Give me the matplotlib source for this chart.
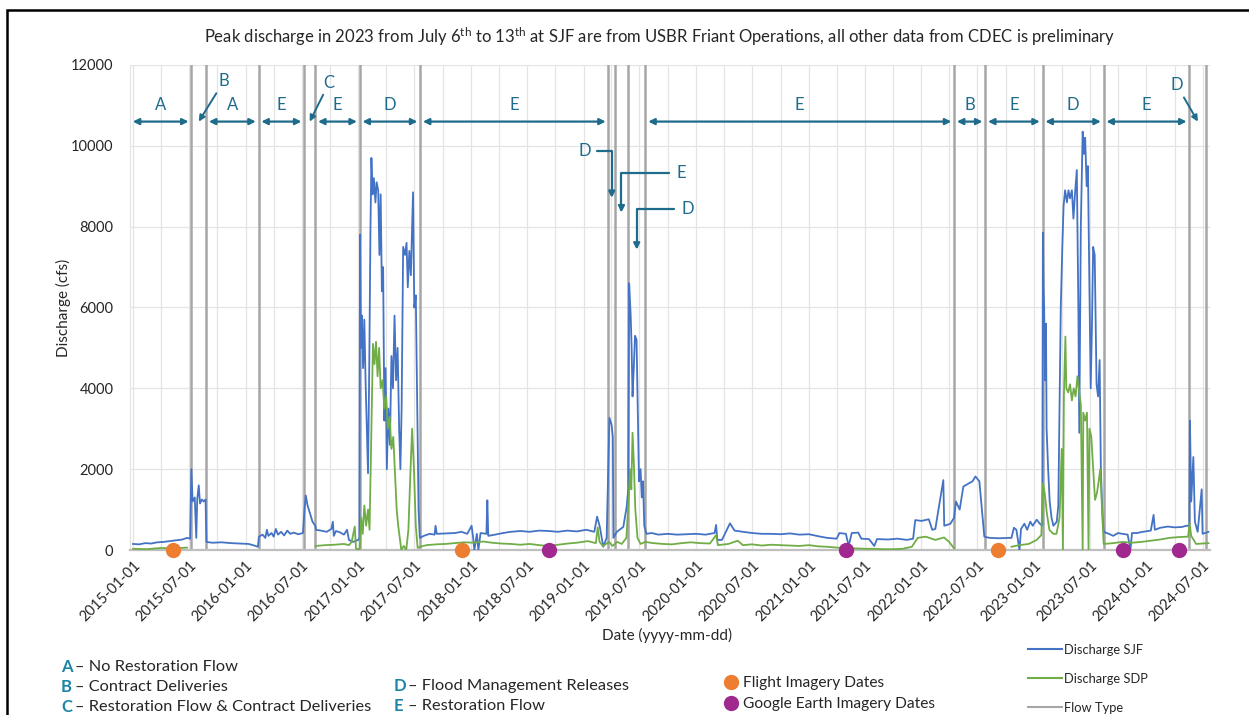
import matplotlib
matplotlib.use('Agg')
import matplotlib.pyplot as plt
import matplotlib.dates as mdates
from matplotlib.lines import Line2D
import numpy as np
import pandas as pd

plt.rcParams['font.family'] = ['Lato', 'DejaVu Sans']

# Discharge SJF (cfs)
sjf_dates = [
    '2015-01-01', '2015-01-20', '2015-02-10', '2015-03-01', '2015-03-20', '2015-04-10', '2015-05-01',
    '2015-05-20', '2015-06-10', '2015-06-25', '2015-07-05', '2015-07-09', '2015-07-13', '2015-07-20',
    '2015-07-25', '2015-07-28', '2015-08-02', '2015-08-06', '2015-08-12', '2015-08-18', '2015-08-24',
    '2015-08-27', '2015-09-15', '2015-10-15', '2015-11-15', '2015-12-15', '2016-01-10', '2016-01-25',
    '2016-02-10', '2016-02-13', '2016-02-25', '2016-03-05', '2016-03-10', '2016-03-15', '2016-03-25',
    '2016-04-01', '2016-04-08', '2016-04-15', '2016-04-25', '2016-05-05', '2016-05-15', '2016-05-25',
    '2016-06-05', '2016-06-20', '2016-07-05', '2016-07-10', '2016-07-14', '2016-07-20', '2016-07-28',
    '2016-08-05', '2016-08-14', '2016-08-16', '2016-09-01', '2016-09-20', '2016-10-05', '2016-10-10',
    '2016-10-13', '2016-10-20', '2016-11-01', '2016-11-15', '2016-11-25', '2016-12-01', '2016-12-15',
    '2016-12-31', '2017-01-04', '2017-01-06', '2017-01-09', '2017-01-12', '2017-01-16', '2017-01-20',
    '2017-01-24', '2017-01-28', '2017-02-01', '2017-02-05', '2017-02-09', '2017-02-12', '2017-02-16',
    '2017-02-20', '2017-02-25', '2017-03-01', '2017-03-06', '2017-03-10', '2017-03-14', '2017-03-18',
    '2017-03-22', '2017-03-26', '2017-03-30', '2017-04-03', '2017-04-08', '2017-04-13', '2017-04-18',
    '2017-04-23', '2017-04-28', '2017-05-03', '2017-05-08', '2017-05-13', '2017-05-17', '2017-05-21',
    '2017-05-26', '2017-06-01', '2017-06-06', '2017-06-10', '2017-06-15', '2017-06-20', '2017-06-27',
    '2017-07-01', '2017-07-06', '2017-07-10', '2017-07-15', '2017-07-19', '2017-08-01', '2017-08-20',
    '2017-09-05', '2017-09-08', '2017-09-12', '2017-10-15', '2017-11-10', '2017-12-01', '2017-12-20',
    '2018-01-03', '2018-01-08', '2018-01-12', '2018-01-20', '2018-01-25', '2018-02-01', '2018-02-20',
    '2018-02-23', '2018-02-26', '2018-03-20', '2018-04-15', '2018-05-10', '2018-06-10', '2018-07-10',
    '2018-08-10', '2018-09-10', '2018-10-10', '2018-11-10', '2018-12-10', '2019-01-10', '2019-02-05',
    '2019-02-14', '2019-02-23', '2019-03-06', '2019-03-17', '2019-03-26', '2019-04-02', '2019-04-06',
    '2019-04-08', '2019-04-19', '2019-05-10', '2019-05-21', '2019-05-26', '2019-05-29', '2019-06-03',
    '2019-06-06', '2019-06-09', '2019-06-13', '2019-06-17', '2019-06-22', '2019-06-26', '2019-06-30',
    '2019-07-05', '2019-07-09', '2019-07-13', '2019-07-17', '2019-07-24', '2019-08-10', '2019-09-01',
    '2019-10-01', '2019-11-01', '2019-12-01', '2020-01-01', '2020-02-01', '2020-03-01', '2020-03-06',
    '2020-03-10', '2020-03-25', '2020-04-10', '2020-04-20', '2020-05-05', '2020-06-01', '2020-07-01',
    '2020-08-01', '2020-09-01', '2020-10-01', '2020-11-01', '2020-12-01', '2021-01-01', '2021-02-01',
    '2021-03-01', '2021-04-01', '2021-04-10', '2021-05-01', '2021-05-10', '2021-05-20', '2021-06-10',
    '2021-06-20', '2021-07-15', '2021-08-01', '2021-08-10', '2021-09-15', '2021-10-15', '2021-11-15',
    '2021-12-05', '2021-12-12', '2022-01-01', '2022-01-25', '2022-02-05', '2022-02-15', '2022-03-13',
    '2022-03-16', '2022-03-25', '2022-04-05', '2022-04-17', '2022-04-23', '2022-05-05', '2022-05-17',
    '2022-06-04', '2022-06-16', '2022-06-25', '2022-07-08', '2022-07-24', '2022-08-10', '2022-09-10',
    '2022-10-10', '2022-10-20', '2022-10-28', '2022-11-05', '2022-11-15', '2022-11-20', '2022-12-01',
    '2022-12-10', '2022-12-20', '2022-12-28', '2023-01-10', '2023-01-20', '2023-01-28', '2023-01-30',
    '2023-02-01', '2023-02-03', '2023-02-06', '2023-02-09', '2023-02-11', '2023-02-16', '2023-02-21',
    '2023-02-27', '2023-03-05', '2023-03-16', '2023-03-21', '2023-03-29', '2023-04-03', '2023-04-07',
    '2023-04-12', '2023-04-18', '2023-04-23', '2023-04-28', '2023-05-04', '2023-05-09', '2023-05-14',
    '2023-05-20', '2023-05-25', '2023-05-28', '2023-06-02', '2023-06-08', '2023-06-12', '2023-06-16',
    '2023-06-21', '2023-06-25', '2023-06-29', '2023-07-04', '2023-07-08', '2023-07-12', '2023-07-17',
    '2023-07-23', '2023-07-28', '2023-08-02', '2023-08-06', '2023-08-11', '2023-08-15', '2023-09-01',
    '2023-09-15', '2023-10-01', '2023-10-15', '2023-11-01', '2023-11-10', '2023-11-15', '2023-12-01',
    '2023-12-20', '2024-01-15', '2024-01-24', '2024-01-28', '2024-02-15', '2024-03-10', '2024-04-01',
    '2024-04-25', '2024-05-10', '2024-05-19', '2024-05-21', '2024-05-25', '2024-06-01', '2024-06-06',
    '2024-06-15', '2024-06-28', '2024-07-01', '2024-07-20',
]
sjf_cfs = [
    150, 140, 170, 160, 190, 200, 220,
    240, 260, 300, 280, 2000, 1200, 1300,
    300, 1250, 1600, 1150, 1250, 1200, 1250,
    200, 180, 190, 170, 160, 150, 120,
    80, 330, 380, 300, 500, 350, 420,
    330, 520, 380, 450, 360, 480, 400,
    430, 390, 420, 1000, 1350, 1100, 900,
    700, 600, 500, 480, 450, 520, 700,
    350, 470, 440, 380, 500, 250, 200,
    250, 300, 7800, 5000, 5800, 4500, 5700,
    4200, 3000, 1900, 4500, 8000, 9700, 8800,
    9200, 8600, 9100, 8900, 7300, 8800, 6400,
    7000, 3200, 4500, 2000, 3500, 2600, 4800,
    4000, 5800, 4200, 5000, 3000, 2000, 3500,
    7500, 7300, 7600, 6500, 7400, 6800, 8850,
    6000, 6300, 4000, 1000, 300, 350, 400,
    380, 600, 400, 410, 420, 450, 400,
    600, 300, 0, 400, 0, 420, 400,
    1230, 350, 380, 420, 450, 470, 450,
    480, 470, 450, 480, 460, 500, 450,
    825, 570, 80, 300, 3270, 3100, 2800,
    300, 450, 570, 1070, 1500, 6600, 5800,
    5000, 3800, 4500, 5300, 5200, 3500, 1700,
    2000, 1300, 1700, 600, 400, 420, 380,
    400, 380, 390, 400, 380, 420, 620,
    250, 250, 500, 660, 480, 450, 420,
    400, 400, 390, 410, 380, 390, 340,
    300, 280, 420, 400, 100, 420, 430,
    280, 270, 100, 270, 260, 280, 250,
    280, 740, 720, 760, 500, 520, 1730,
    600, 620, 650, 800, 1200, 1000, 1570,
    1650, 1700, 1820, 1700, 330, 300, 290,
    300, 300, 550, 500, 0, 520, 650,
    500, 700, 600, 750, 650, 600, 7850,
    6500, 6000, 4200, 5600, 3000, 2000, 1200,
    800, 600, 700, 1100, 6000, 7500, 8500,
    8900, 8600, 8900, 8700, 8900, 8200, 8800,
    9400, 6000, 2900, 8000, 10350, 9800, 10200,
    9000, 9500, 7000, 4000, 5500, 7500, 7300,
    4100, 3800, 4700, 2000, 900, 450, 400,
    350, 420, 400, 380, 0, 420, 420,
    450, 480, 870, 500, 550, 580, 560,
    570, 600, 600, 3200, 1200, 2300, 700,
    450, 1500, 400, 450,
]

# Discharge SDP (cfs); nan = no record
sdp_dates = [
    '2015-01-01', '2015-02-15', '2015-04-01', '2015-05-15', '2015-06-25', '2015-07-05', '2016-08-14',
    '2016-08-15', '2016-09-15', '2016-10-15', '2016-11-15', '2016-12-01', '2016-12-10', '2016-12-20',
    '2016-12-24', '2017-01-05', '2017-01-10', '2017-01-15', '2017-01-20', '2017-01-26', '2017-02-01',
    '2017-02-06', '2017-02-12', '2017-02-17', '2017-02-22', '2017-02-27', '2017-03-04', '2017-03-09',
    '2017-03-14', '2017-03-20', '2017-03-26', '2017-04-01', '2017-04-06', '2017-04-12', '2017-04-18',
    '2017-04-24', '2017-04-30', '2017-05-05', '2017-05-10', '2017-05-15', '2017-05-20', '2017-05-28',
    '2017-06-05', '2017-06-12', '2017-06-18', '2017-06-24', '2017-06-30', '2017-07-06', '2017-07-12',
    '2017-07-20', '2017-08-10', '2017-09-10', '2017-10-10', '2017-11-10', '2017-12-10', '2018-01-10',
    '2018-02-10', '2018-03-10', '2018-04-10', '2018-05-10', '2018-06-10', '2018-07-10', '2018-08-10',
    '2018-09-10', '2018-10-10', '2018-11-10', '2018-12-10', '2019-01-15', '2019-02-10', '2019-02-16',
    '2019-02-22', '2019-03-05', '2019-03-25', '2019-04-05', '2019-04-20', '2019-05-05', '2019-05-20',
    '2019-05-27', '2019-06-01', '2019-06-05', '2019-06-09', '2019-06-13', '2019-06-18', '2019-06-25',
    '2019-07-05', '2019-07-20', '2019-08-15', '2019-09-15', '2019-10-15', '2019-11-15', '2019-12-15',
    '2020-01-15', '2020-02-15', '2020-03-06', '2020-03-12', '2020-04-15', '2020-05-15', '2020-06-01',
    '2020-07-01', '2020-08-01', '2020-09-01', '2020-10-01', '2020-11-01', '2020-12-01', '2021-01-01',
    '2021-02-01', '2021-03-01', '2021-04-01', '2021-05-01', '2021-06-01', '2021-07-01', '2021-08-01',
    '2021-09-01', '2021-10-01', '2021-11-01', '2021-12-01', '2021-12-20', '2022-01-15', '2022-02-15',
    '2022-03-15', '2022-04-01', '2022-04-17', '2022-04-20', '2022-10-20', '2022-11-15', '2022-12-15',
    '2023-01-10', '2023-01-25', '2023-01-30', '2023-02-05', '2023-02-12', '2023-02-20', '2023-03-05',
    '2023-03-15', '2023-03-25', '2023-04-01', '2023-04-05', '2023-04-08', '2023-04-13', '2023-04-16',
    '2023-04-22', '2023-04-28', '2023-05-04', '2023-05-10', '2023-05-16', '2023-05-22', '2023-05-28',
    '2023-06-02', '2023-06-08', '2023-06-10', '2023-06-16', '2023-06-22', '2023-06-27', '2023-06-30',
    '2023-07-06', '2023-07-12', '2023-07-18', '2023-07-24', '2023-07-30', '2023-08-04', '2023-08-10',
    '2023-08-15', '2023-09-15', '2023-10-15', '2023-11-15', '2023-12-15', '2024-01-15', '2024-02-15',
    '2024-03-15', '2024-04-15', '2024-05-15', '2024-05-20', '2024-05-25', '2024-06-10', '2024-07-01',
    '2024-07-20',
]
sdp_cfs = [
    30, 20, 50, 40, 60, np.nan, np.nan,
    100, 120, 130, 150, 120, 200, 580,
    30, 20, 800, 400, 1100, 600, 1000,
    500, 3000, 5100, 4600, 5150, 4300, 5000,
    4000, 4200, 3500, 3800, 3000, 3300, 2500,
    2800, 1800, 1000, 600, 300, 0, 100,
    0, 500, 1800, 3000, 2000, 600, 50,
    80, 120, 140, 150, 170, 190, 180,
    210, 180, 160, 150, 130, 150, 120,
    100, 130, 160, 180, 220, 170, 560,
    200, 100, 200, 100, 200, 150, 300,
    1200, 2000, 1500, 2900, 2200, 1000, 300,
    150, 200, 170, 150, 140, 170, 190,
    170, 160, 370, 120, 150, 230, 120,
    140, 110, 130, 120, 110, 100, 120,
    90, 80, 60, 50, 40, 30, 30,
    20, 20, 30, 80, 300, 330, 250,
    310, 200, 40, np.nan, 80, 120, 150,
    250, 370, 1650, 1400, 900, 500, 400,
    400, 800, 2500, 0, 3800, 5280, 4000,
    3900, 4100, 3700, 4000, 3800, 4300, 3900,
    3600, 0, 3400, 3200, 3400, 0, 3000,
    2800, 2000, 1240, 1400, 1700, 2000, 1000,
    150, 170, 200, 180, 200, 230, 260,
    300, 320, 330, 660, 350, 150, 160,
    170,
]

# flow type change dates and the flow type of each period
flow_bounds = ['2015-07-09', '2015-08-26', '2016-02-12', '2016-07-09', '2016-08-14', '2017-01-05',
               '2017-07-20', '2019-03-23', '2019-04-13', '2019-05-25', '2019-07-21', '2022-04-17',
               '2022-07-27', '2023-01-29', '2023-08-15', '2024-05-19', '2024-07-13']
flow_codes = ['A', 'B', 'A', 'E', 'C', 'E', 'D', 'E', 'D', 'E', 'D', 'E', 'B', 'E', 'D', 'E', 'D']

flight_dates = ['2015-05-10', '2017-12-03', '2022-09-05']
google_dates = ['2018-09-10', '2021-05-01', '2023-10-16', '2024-04-16']

key_codes = ['A', 'B', 'C', 'D', 'E']
key_names = ['No Restoration Flow', 'Contract Deliveries', 'Restoration Flow & Contract Deliveries',
             'Flood Management Releases', 'Restoration Flow']

title = ('Peak discharge in 2023 from July 6$\\mathregular{^{th}}$ to 13$\\mathregular{^{th}}$ at SJF are '
         'from USBR Friant Operations, all other data from CDEC is preliminary')

blue = '#4472C4'
green = '#70AD47'
gray = '#A6A6A6'
teal = '#1F6B8C'
key_teal = '#1B85A8'

W, H = 1249, 715
fig = plt.figure(figsize=(W / 100, H / 100), dpi=100)
ax = fig.add_axes([130 / W, 165 / H, 1080 / W, 485 / H])

xmin = pd.Timestamp('2014-12-22')
xmax = pd.Timestamp('2024-07-25')

sjf_t = pd.to_datetime(sjf_dates)
sdp_t = pd.to_datetime(sdp_dates)
ax.plot(sjf_t, sjf_cfs, color=blue, lw=1.3, zorder=3)
ax.plot(sdp_t, sdp_cfs, color=green, lw=1.3, zorder=4)

bounds = pd.to_datetime(flow_bounds)
for b in bounds:
    ax.axvline(b, color=gray, lw=1.8, zorder=2)

ax.plot(pd.to_datetime(flight_dates), [0] * len(flight_dates), 'o', color='#ED7D31',
        ms=10, clip_on=False, zorder=6)
ax.plot(pd.to_datetime(google_dates), [0] * len(google_dates), 'o', color='#A0288F',
        ms=10, clip_on=False, zorder=6)

ax.set_xlim(xmin, xmax)
ax.set_ylim(0, 12000)
ax.set_yticks(range(0, 12001, 2000))
ax.xaxis.set_major_locator(mdates.MonthLocator(bymonth=[1, 7]))
ax.xaxis.set_minor_locator(mdates.MonthLocator(bymonth=[1, 4, 7, 10]))
ax.xaxis.set_major_formatter(mdates.DateFormatter('%Y-%m-%d'))
ax.grid(True, which='both', color='#E4E4E4', lw=0.9, zorder=0)
ax.tick_params(length=0, which='both', labelsize=10.5, labelcolor='#262626')
ax.tick_params(axis='y', pad=12)
ax.tick_params(axis='x', pad=6)
for lab in ax.get_xticklabels():
    lab.set_rotation(45)
    lab.set_ha('right')
    lab.set_rotation_mode('anchor')
for s in ['top', 'right']:
    ax.spines[s].set_visible(False)
ax.spines['left'].set_color('#E4E4E4')
ax.spines['bottom'].set_color('#BFBFBF')
ax.spines['bottom'].set_linewidth(1.6)

ax.set_ylabel('Discharge (cfs)', fontsize=11, color='#262626')
ax.yaxis.set_label_coords(-0.055, 0.5)
ax.set_xlabel('Date (yyyy-mm-dd)', fontsize=11, color='#262626')
ax.xaxis.set_label_coords(0.497, -0.161)

# flow type annotations
arrow_y = 10600
label_y = 10800
starts = [xmin] + list(bounds[:-1])
ends = list(bounds)
day = pd.Timedelta(days=1)
callouts = {1: (18, 29), 4: (14, 28), 16: (-15, 26)}
elbows = {8: (-89, 9860, 8710), 9: (193, 9340, 8350), 10: (165, 8440, 7430)}
for i, code in enumerate(flow_codes):
    s, e = starts[i], ends[i]
    mid = s + (e - s) / 2
    if i in callouts:
        dx, dy = callouts[i]
        ax.annotate(code, xy=(mid, arrow_y), xytext=(dx, dy), textcoords='offset points',
                    ha='center', va='center', fontsize=12, color=teal,
                    arrowprops=dict(arrowstyle='-|>', color=teal, lw=1.4, mutation_scale=9,
                                    shrinkA=1, shrinkB=0))
    elif i in elbows:
        dd, yh, yt = elbows[i]
        ax.annotate(code, xy=(mid, yt), xytext=(mid + dd * day, yh),
                    ha='center', va='center', fontsize=12, color=teal,
                    arrowprops=dict(arrowstyle='-|>', color=teal, lw=1.6, mutation_scale=9,
                                    connectionstyle='angle,angleA=0,angleB=90,rad=0',
                                    shrinkA=3, shrinkB=0))
    else:
        ax.annotate('', xy=(s, arrow_y), xytext=(e, arrow_y),
                    arrowprops=dict(arrowstyle='<|-|>', color=teal, lw=1.6, mutation_scale=9,
                                    shrinkA=2, shrinkB=2))
        ax.text(mid, label_y, code, ha='center', va='bottom', fontsize=12, color=teal)

fig.text(660 / W, 1 - 37 / H, title, ha='center', va='center', fontsize=12, color='#262626')

# key for the flow type letters
key_xy = [(61, 667), (61, 687), (61, 707), (394, 686), (394, 706)]
for (kx, ky), c, n in zip(key_xy, key_codes, key_names):
    fig.text(kx / W, 1 - ky / H, c, ha='left', va='center', fontsize=12, color=key_teal,
             fontweight='bold')
    fig.text((kx + 14) / W, 1 - ky / H, '\u2013 ' + n, ha='left', va='center', fontsize=11.8,
             color='#262626')

h_flight = Line2D([], [], ls='none', marker='o', color='#ED7D31', ms=10)
h_google = Line2D([], [], ls='none', marker='o', color='#A0288F', ms=10)
leg1 = fig.legend([h_flight, h_google], ['Flight Imagery Dates', 'Google Earth Imagery Dates'],
                  loc='upper left', bbox_to_anchor=(722 / W, 1 - 676 / H), frameon=False,
                  fontsize=11.2, handletextpad=0.15, labelspacing=0.45, handlelength=1.2,
                  borderpad=0, borderaxespad=0)

h_sjf = Line2D([], [], color=blue, lw=1.5)
h_sdp = Line2D([], [], color=green, lw=1.5)
h_flow = Line2D([], [], color=gray, lw=1.5)
leg2 = fig.legend([h_sjf, h_sdp, h_flow], ['Discharge SJF', 'Discharge SDP', 'Flow Type'],
                  loc='upper left', bbox_to_anchor=(1028 / W, 1 - 644 / H), frameon=False,
                  fontsize=9.3, handletextpad=0.2, labelspacing=1.3, handlelength=2.6,
                  borderpad=0, borderaxespad=0)
for t in leg1.get_texts() + leg2.get_texts():
    t.set_color('#262626')

# outer frame
fig.add_artist(plt.Rectangle((7 / W, -0.1), 1.1, 1 - 10 / H + 0.1, transform=fig.transFigure,
                             fill=False, ec='black', lw=1.8))

fig.savefig('out.png', dpi=100)
